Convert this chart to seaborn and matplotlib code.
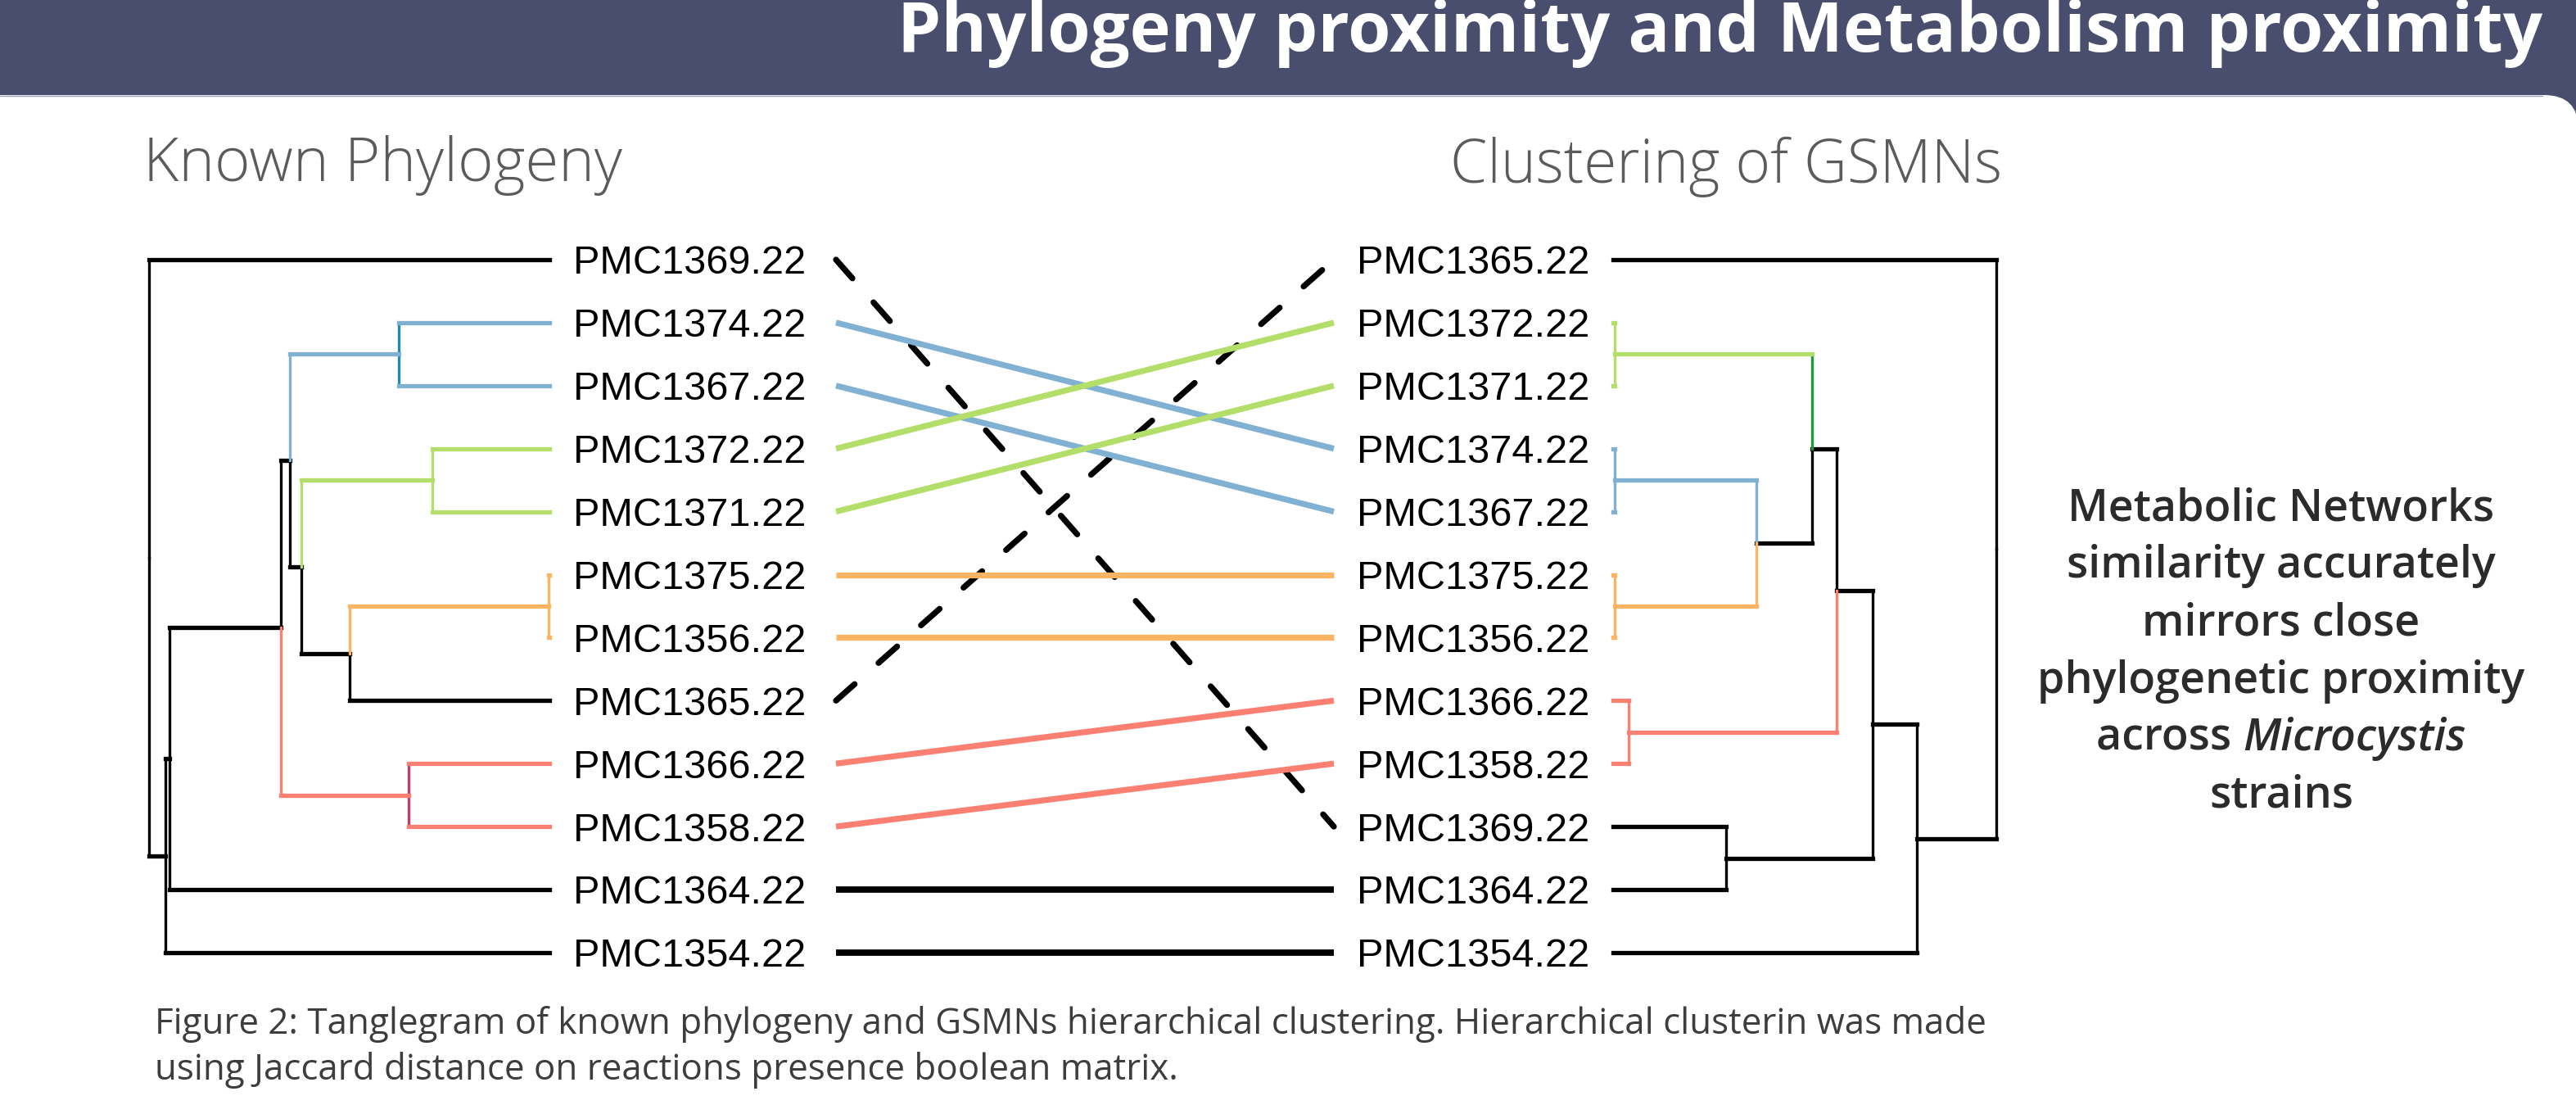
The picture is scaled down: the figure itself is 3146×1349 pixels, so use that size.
import numpy as np
import pandas as pd
import matplotlib
matplotlib.use("Agg")
import matplotlib.pyplot as plt
import matplotlib.transforms as mtransforms
from matplotlib.patches import FancyBboxPatch
import seaborn as sns

# ------------------------------------------------------------------ data
left_leaves = ["PMC1369.22", "PMC1374.22", "PMC1367.22", "PMC1372.22",
               "PMC1371.22", "PMC1375.22", "PMC1356.22", "PMC1365.22",
               "PMC1366.22", "PMC1358.22", "PMC1364.22", "PMC1354.22"]
# (node, child a, child b, height)  -- heights relative to root = 1
left_merges = [("La", "PMC1375.22", "PMC1356.22", 0.002),
               ("Lb", "PMC1374.22", "PMC1367.22", 0.376),
               ("Lc", "PMC1372.22", "PMC1371.22", 0.292),
               ("Ld", "PMC1366.22", "PMC1358.22", 0.352),
               ("Le", "La", "PMC1365.22", 0.499),
               ("Lf", "Lc", "Le", 0.620),
               ("Lg", "Lb", "Lf", 0.648),
               ("Lh", "Lg", "Ld", 0.671),
               ("Li", "Lh", "PMC1364.22", 0.949),
               ("Lj", "Li", "PMC1354.22", 0.959),
               ("Lroot", "PMC1369.22", "Lj", 1.000)]

right_leaves = ["PMC1365.22", "PMC1372.22", "PMC1371.22", "PMC1374.22",
                "PMC1367.22", "PMC1375.22", "PMC1356.22", "PMC1366.22",
                "PMC1358.22", "PMC1369.22", "PMC1364.22", "PMC1354.22"]
right_merges = [("Ra", "PMC1372.22", "PMC1371.22", 0.004),
                ("Rb", "PMC1374.22", "PMC1367.22", 0.004),
                ("Rc", "PMC1375.22", "PMC1356.22", 0.004),
                ("Rd", "PMC1366.22", "PMC1358.22", 0.041),
                ("Re", "Rb", "Rc", 0.374),
                ("Rf", "Ra", "Re", 0.519),
                ("Rg", "Rf", "Rd", 0.583),
                ("Rh", "PMC1369.22", "PMC1364.22", 0.295),
                ("Ri", "Rg", "Rh", 0.677),
                ("Rj", "Ri", "PMC1354.22", 0.793),
                ("Rroot", "PMC1365.22", "Rj", 1.000)]

leaf_colors = {"PMC1374.22": "#80b1d3", "PMC1367.22": "#80b1d3",
               "PMC1372.22": "#b3de69", "PMC1371.22": "#b3de69",
               "PMC1375.22": "#fdb462", "PMC1356.22": "#fdb462",
               "PMC1366.22": "#fb8072", "PMC1358.22": "#fb8072"}
left_vertical_override = {("Lb", "PMC1374.22"): "#1f8ab8", ("Lb", "PMC1367.22"): "#1f8ab8",
                          ("Ld", "PMC1366.22"): "#c23b6b", ("Ld", "PMC1358.22"): "#c23b6b"}
right_vertical_override = {("Rf", "Ra"): "#1e9a3c"}

dashed_leaves = ["PMC1369.22", "PMC1365.22"]

title = "Phylogeny proximity and Metabolism proximity"
left_title = "Known Phylogeny"
right_title = "Clustering of GSMNs"
side_lines = ["Metabolic Networks", "similarity accurately", "mirrors close",
              "phylogenetic proximity", ("across ", "Microcystis"), "strains"]
caption = ["Figure 2: Tanglegram of known phylogeny and GSMNs hierarchical clustering. Hierarchical clusterin was made",
           "using Jaccard distance on reactions presence boolean matrix."]

BLACK = "#000000"

# ------------------------------------------------------------------ helpers
def tree_segments(leaves, merges, colors, vert_override):
    pos = {n: (0.0, float(i), colors.get(n, BLACK)) for i, n in enumerate(leaves)}
    rows = []
    for node, a, b, h in merges:
        y = (pos[a][1] + pos[b][1]) / 2
        for child in (a, b):
            hc, yc, cc = pos[child]
            rows.append(dict(x0=h, x1=h, y0=y, y1=yc, color=vert_override.get((node, child), cc), kind="v"))
            rows.append(dict(x0=h, x1=hc, y0=yc, y1=yc, color=cc, kind="h"))
        ca, cb = pos[a][2], pos[b][2]
        pos[node] = (h, y, ca if (ca == cb and ca != BLACK) else BLACK)
    return pd.DataFrame(rows)


W, H, DPI = 3146, 1349, 100
sns.set_theme(style="white")
plt.rcParams["font.family"] = ["Liberation Sans", "DejaVu Sans"]

fig = plt.figure(figsize=(W / DPI, H / DPI), dpi=DPI, facecolor="#4a4e6e")
renderer = fig.canvas.get_renderer()

def px_axes(x0, x1, ytop, ybot, z=1):
    ax = fig.add_axes([x0 / W, 1 - ybot / H, (x1 - x0) / W, (ybot - ytop) / H], zorder=z)
    ax.set_axis_off()
    ax.patch.set_alpha(0)
    return ax

# background
ax_bg = px_axes(0, W, 0, H, z=0)
ax_bg.set_xlim(0, W)
ax_bg.set_ylim(H, 0)
ax_bg.add_patch(FancyBboxPatch((-60, 116), W + 3 + 60, 1500,
                               boxstyle="round,pad=0,rounding_size=42",
                               fc="white", ec="none"))
ax_bg.plot([0, 3105], [116.5, 116.5], color="#9ea1b8", lw=1.0)

def fit_size(s, target, **kw):
    t = ax_bg.text(0, 0, s, fontsize=100, **kw)
    w = t.get_window_extent(renderer).width
    t.remove()
    return 100 * target / w

# leaf layout
Y0, DY = 317, 76.9
ytop, ybot = Y0 - DY, Y0 + 12 * DY

# left dendrogram
ax_l = px_axes(182, 671, ytop, ybot)
ax_l.set_xlim(1, 0)
ax_l.set_ylim(12, -1)
# middle connections
ax_m = px_axes(1021, 1629, ytop, ybot)
ax_m.set_xlim(0, 1)
ax_m.set_ylim(12, -1)
# right dendrogram
ax_r = px_axes(1970, 2438, ytop, ybot)
ax_r.set_xlim(0, 1)
ax_r.set_ylim(12, -1)

for ax, leaves, merges, vo in [(ax_l, left_leaves, left_merges, left_vertical_override),
                               (ax_r, right_leaves, right_merges, right_vertical_override)]:
    seg = tree_segments(leaves, merges, leaf_colors, vo)
    for r in seg.itertuples():
        ax.plot([r.x0, r.x1], [r.y0, r.y1], color=r.color,
                lw=3.8 if r.kind == "h" else 2.4,
                solid_capstyle="projecting", clip_on=False,
                zorder=2 if r.color != BLACK else 1)

# connections (tanglegram)
conn = pd.DataFrame({"leaf": left_leaves})
conn["left"] = [left_leaves.index(n) for n in conn["leaf"]]
conn["right"] = [right_leaves.index(n) for n in conn["leaf"]]
long = pd.concat([pd.DataFrame({"leaf": conn["leaf"], "x": 0.0, "y": conn["left"].astype(float)}),
                  pd.DataFrame({"leaf": conn["leaf"], "x": 1.0, "y": conn["right"].astype(float)})])
palette = {n: leaf_colors.get(n, BLACK) for n in left_leaves}
dashes = {n: ((4.2, 5.4) if n in dashed_leaves else "") for n in left_leaves}
order = dashed_leaves + [n for n in left_leaves if n not in dashed_leaves]
sns.lineplot(data=long, x="x", y="y", hue="leaf", style="leaf", units="leaf",
             estimator=None, palette=palette, dashes=dashes, hue_order=order,
             style_order=order, lw=5.2, legend=False, ax=ax_m)
ax_m.set_xlim(0, 1)
ax_m.set_ylim(12, -1)
ax_m.set_axis_off()
for ln in ax_m.lines:
    ln.set_clip_on(False)
    if ln.get_linestyle() not in ("-", "solid"):
        ln.set_dash_capstyle("round")
    else:
        ln.set_solid_capstyle("butt")
        if ln.get_color() in (BLACK, "black", (0, 0, 0, 1)):
            ln.set_linewidth(5.6)

# leaf labels
cap_off = mtransforms.ScaledTranslation(0, -0.174, fig.dpi_scale_trans)
tr_l = mtransforms.blended_transform_factory(fig.transFigure, ax_l.transData) + cap_off
tr_r = mtransforms.blended_transform_factory(fig.transFigure, ax_r.transData) + cap_off
for i, n in enumerate(left_leaves):
    ax_l.text(700 / W, i, n, transform=tr_l, fontsize=35, color="black",
              ha="left", va="baseline", family=["Liberation Sans"])
for i, n in enumerate(right_leaves):
    ax_r.text(1657 / W, i, n, transform=tr_r, fontsize=35, color="black",
              ha="left", va="baseline", family=["Liberation Sans"])

# texts
head_font = ["Open Sans", "DejaVu Sans"]
fs = fit_size(title, 2012, family=head_font, fontweight="bold")
ax_bg.text(3105, 63, title, family=head_font, fontweight="bold", fontsize=fs,
           color="white", ha="right", va="baseline")

fs = fit_size(left_title, 585, family=head_font, fontweight="light")
ax_bg.text(175, 221, left_title, family=head_font, fontweight="light", fontsize=fs,
           color="#5b5b5b", ha="left", va="baseline")
fs = fit_size(right_title, 674, family=head_font, fontweight="light")
ax_bg.text(1771, 223, right_title, family=head_font, fontweight="light", fontsize=fs,
           color="#5b5b5b", ha="left", va="baseline")

fs_side = fit_size("phylogenetic proximity", 596, family=head_font, fontweight="semibold")
cx = 2786
for k, line in enumerate(side_lines):
    yb = 635 + 70.2 * k
    if isinstance(line, tuple):
        a, b = line
        t1 = ax_bg.text(0, 0, a, family=head_font, fontweight="semibold", fontsize=fs_side)
        w1 = t1.get_window_extent(renderer).width
        t1.remove()
        t2 = ax_bg.text(0, 0, b, family=head_font, fontweight="semibold", style="italic", fontsize=fs_side)
        w2 = t2.get_window_extent(renderer).width
        t2.remove()
        x0 = cx - (w1 + w2) / 2
        ax_bg.text(x0, yb, a, family=head_font, fontweight="semibold", fontsize=fs_side,
                   color="#2b2b2b", ha="left", va="baseline")
        ax_bg.text(x0 + w1, yb, b, family=head_font, fontweight="semibold", style="italic",
                   fontsize=fs_side, color="#2b2b2b", ha="left", va="baseline")
    else:
        ax_bg.text(cx, yb, line, family=head_font, fontweight="semibold", fontsize=fs_side,
                   color="#2b2b2b", ha="center", va="baseline")

fs_cap = fit_size(caption[0], 2240, family=head_font)
ax_bg.text(189, 1262, caption[0], family=head_font, fontsize=fs_cap, color="#3d3d3d",
           ha="left", va="baseline")
ax_bg.text(189, 1318, caption[1], family=head_font, fontsize=fs_cap, color="#3d3d3d",
           ha="left", va="baseline")

fig.savefig("out.png", dpi=DPI, facecolor=fig.get_facecolor())
